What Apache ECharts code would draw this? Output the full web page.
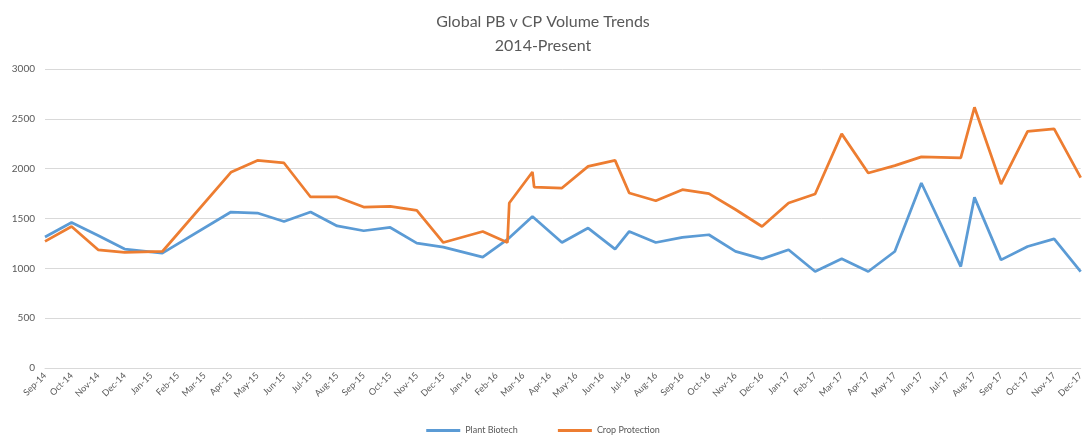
<!DOCTYPE html>
<html><head><meta charset="utf-8">
<script src="https://cdn.jsdelivr.net/npm/echarts@6/dist/echarts.min.js"></script>
<style>html,body{margin:0;padding:0;background:#fff}#c{width:1086px;height:443px}</style>
</head><body><div id="c"></div>
<script>
const monthLabels = ['Sep-14','Oct-14','Nov-14','Dec-14',
  'Jan-15','Feb-15','Mar-15','Apr-15','May-15','Jun-15','Jul-15','Aug-15','Sep-15','Oct-15','Nov-15','Dec-15',
  'Jan-16','Feb-16','Mar-16','Apr-16','May-16','Jun-16','Jul-16','Aug-16','Sep-16','Oct-16','Nov-16','Dec-16',
  'Jan-17','Feb-17','Mar-17','Apr-17','May-17','Jun-17','Jul-17','Aug-17','Sep-17','Oct-17','Nov-17','Dec-17'];
const dates = ['2014-09-01','2014-10-01','2014-11-01','2014-12-01','2015-01-14',
  '2015-04-01','2015-05-01','2015-06-01','2015-07-01','2015-08-01','2015-09-01','2015-10-01','2015-11-01','2015-12-01',
  '2016-01-16','2016-02-13','2016-02-15','2016-03-12','2016-03-14','2016-04-15','2016-05-15','2016-06-15',
  '2016-07-01','2016-08-01','2016-09-01','2016-10-01','2016-11-01','2016-12-01',
  '2017-01-01','2017-02-01','2017-03-01','2017-04-01','2017-05-01','2017-06-01','2017-07-16',
  '2017-08-01','2017-09-01','2017-10-01','2017-11-01','2017-12-01'];
const plantBiotech = [1314,1460,1330,1193,1153,
  1565,1555,1470,1565,1425,1377,1410,1253,1213,
  1113,1290,1300,1521,1515,1259,1404,1193,
  1370,1259,1310,1337,1170,1095,
  1186,968,1095,968,1169,1856,1018,
  1712,1085,1219,1296,968];
const cropProtection = [1270,1420,1186,1159,1169,
  1963,2083,2057,1716,1716,1615,1621,1581,1259,
  1370,1259,1655,1967,1816,1806,2023,2083,
  1756,1678,1789,1749,1590,1420,
  1655,1746,2349,1957,2030,2118,2108,
  2616,1846,2374,2399,1911];

function monthPos(s){
  const [y,m,d] = s.split('-').map(Number);
  const dim = new Date(y, m, 0).getDate();
  return (y-2014)*12 + (m-9) + (d-1)/dim;
}
const font = 'Lato, "Open Sans", sans-serif';
const chart = echarts.init(document.getElementById('c'));
chart.setOption({
  animation:false,
  backgroundColor:'#fff',
  title:{text:'Global PB v CP Volume Trends\n2014-Present',left:'center',top:5,
    textStyle:{fontSize:16,fontWeight:'normal',color:'#595959',lineHeight:24,fontFamily:font}},
  legend:{bottom:3,left:'center',icon:'rect',itemWidth:34,itemHeight:3,itemGap:40,
    textStyle:{fontSize:9,color:'#595959',fontFamily:font},
    data:['Plant Biotech','Crop Protection']},
  grid:{left:45,right:4,top:69,bottom:75,containLabel:false},
  xAxis:{type:'value',min:0,max:monthLabels.length-1,interval:1,
    axisLine:{show:true,lineStyle:{color:'#d9d9d9',width:1}},
    axisTick:{show:false},splitLine:{show:false},
    axisLabel:{rotate:45,fontSize:9,color:'#595959',fontFamily:font,margin:6,
      formatter:v=>monthLabels[Math.round(v)]||''}},
  yAxis:{type:'value',min:0,max:3000,interval:500,
    axisLine:{show:false},axisTick:{show:false},
    axisLabel:{fontSize:10,color:'#595959',fontFamily:font,margin:10,
      formatter:v=>String(v)},
    splitLine:{lineStyle:{color:'#d9d9d9',width:1}}},
  series:[
    {name:'Plant Biotech',type:'line',showSymbol:false,color:'#5B9BD5',
      lineStyle:{width:2.75,color:'#5B9BD5'},
      data:dates.map((d,i)=>[monthPos(d),plantBiotech[i]])},
    {name:'Crop Protection',type:'line',showSymbol:false,color:'#ED7D31',
      lineStyle:{width:2.75,color:'#ED7D31'},
      data:dates.map((d,i)=>[monthPos(d),cropProtection[i]])}
  ]
});
</script></body></html>
